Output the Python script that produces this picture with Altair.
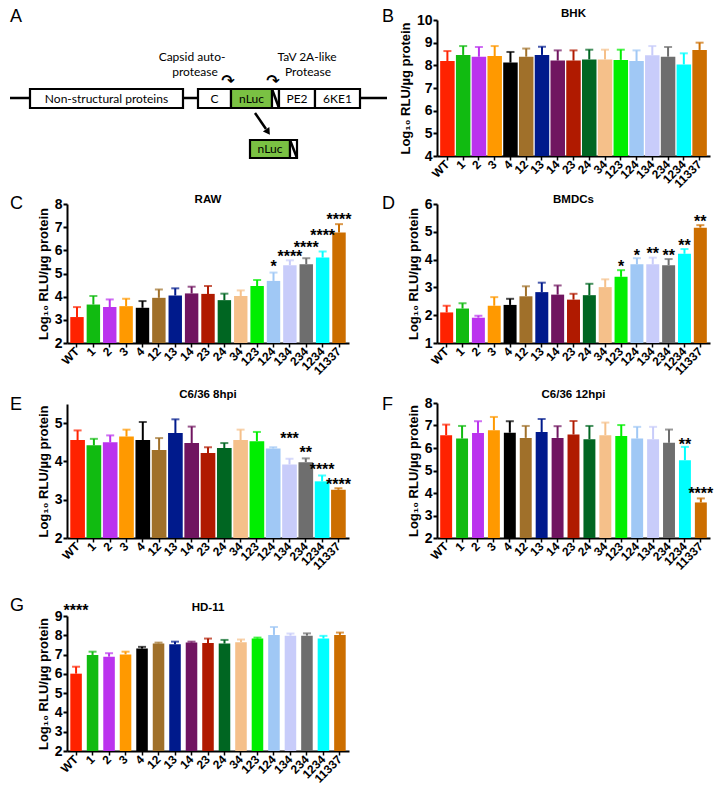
import altair as alt
import pandas as pd

cats = ["WT", "1", "2", "3", "4", "12", "13", "14", "23", "24", "34",
        "123", "124", "134", "234", "1234", "11337"]
colors = ["#ff2200", "#11bb11", "#bb33ee", "#ff9900", "#000000", "#a0702a",
          "#001a8c", "#701560", "#b01a00", "#006622", "#f5c08a", "#00ee00",
          "#a0c8f5", "#c8ccfa", "#6e6e6e", "#00ffff", "#cc6e00"]

bhk_mean = [8.19, 8.46, 8.38, 8.41, 8.12, 8.38, 8.46, 8.21, 8.21, 8.26, 8.26, 8.24, 8.19, 8.44, 8.38, 8.04, 8.68]
bhk_err = [8.63, 8.85, 8.81, 8.85, 8.59, 8.74, 8.82, 8.66, 8.66, 8.69, 8.69, 8.69, 8.66, 8.85, 8.81, 8.53, 9.00]

raw_mean = [3.12, 3.66, 3.55, 3.59, 3.52, 3.95, 4.05, 4.14, 4.12, 3.85, 4.03, 4.46, 4.68, 5.36, 5.40, 5.69, 6.77]
raw_err = [3.55, 4.03, 3.88, 3.91, 3.81, 4.31, 4.36, 4.43, 4.46, 4.13, 4.27, 4.72, 5.04, 5.57, 5.66, 5.95, 7.13]
raw_star_cat = ["124", "134", "234", "1234", "11337"]
raw_star_txt = ["*", "****", "****", "****", "****"]
raw_star_y = [5.44, 5.90, 6.29, 6.77, 7.49]

bmdc_mean = [2.10, 2.24, 1.91, 2.34, 2.37, 2.68, 2.83, 2.74, 2.56, 2.72, 3.01, 3.38, 3.83, 3.83, 3.80, 4.21, 5.15]
bmdc_err = [2.34, 2.43, 1.98, 2.65, 2.59, 3.04, 3.17, 3.07, 2.77, 3.13, 3.29, 3.62, 4.05, 4.07, 4.02, 4.38, 5.24]
bmdc_star_cat = ["123", "124", "134", "234", "1234", "11337"]
bmdc_star_txt = ["*", "*", "**", "**", "**", "**"]
bmdc_star_y = [3.89, 4.29, 4.33, 4.29, 4.63, 5.49]

c8_mean = [4.56, 4.42, 4.50, 4.65, 4.56, 4.30, 4.74, 4.48, 4.22, 4.35, 4.56, 4.53, 4.34, 3.92, 3.98, 3.48, 3.26]
c8_err = [4.81, 4.59, 4.68, 4.83, 5.03, 4.61, 5.10, 4.91, 4.37, 4.48, 4.83, 4.77, 4.37, 4.07, 4.08, 3.63, 3.30]
c8_star_cat = ["134", "234", "1234", "11337"]
c8_star_txt = ["***", "**", "****", "****"]
c8_star_y = [4.68, 4.33, 3.88, 3.48]

c12_mean = [6.57, 6.42, 6.67, 6.79, 6.68, 6.45, 6.71, 6.45, 6.60, 6.39, 6.57, 6.53, 6.42, 6.39, 6.23, 5.46, 3.58]
c12_err = [7.04, 6.98, 7.19, 7.38, 7.19, 6.98, 7.29, 6.97, 7.20, 6.98, 7.13, 7.02, 6.94, 6.94, 6.82, 6.05, 3.76]
c12_star_cat = ["1234", "11337"]
c12_star_txt = ["**", "****"]
c12_star_y = [6.33, 4.13]

hd_mean = [6.01, 6.98, 6.89, 7.01, 7.31, 7.58, 7.53, 7.62, 7.60, 7.57, 7.64, 7.83, 8.02, 7.98, 7.98, 7.83, 8.02]
hd_err = [6.37, 7.15, 7.07, 7.15, 7.40, 7.62, 7.67, 7.67, 7.83, 7.76, 7.78, 7.88, 8.43, 8.09, 8.10, 7.97, 8.14]
hd_star_cat = ["WT"]
hd_star_txt = ["****"]
hd_star_y = [9.47]

# ---- panel A diagram (figure-pixel units) ----
box_labels = ["Non-structural proteins", "C", "nLuc", "", "PE2", "6KE1", "nLuc", ""]
box_x0 = [28, 196, 229, 270, 277, 313, 248, 288]
box_x1 = [181, 229, 270, 277, 313, 358, 288, 295]
box_y0 = [88, 88, 88, 88, 88, 88, 139, 139]
box_y1 = [107, 107, 107, 107, 107, 107, 157, 157]
box_fill = ["white", "white", "#7ac143", "white", "white", "white", "#7ac143", "white"]
note_txt = ["Capsid auto-", "protease", "TaV 2A-like", "Protease"]
note_x = [190, 193, 305, 306]
note_y = [56, 71, 56, 71]

FONT = "Liberation Sans"
YTITLE = "Log\u2081\u2080 RLU/\u00b5g protein"

LW, RW = 282, 273


def letter_layer(letter, lx, ly):
    # ly is the top of the letter's text box, relative to the panel's top
    return alt.Chart(pd.DataFrame({"t": [letter]})).mark_text(
        font=FONT, fontSize=18, align="left", baseline="top", color="black").encode(
        x=alt.value(lx), y=alt.value(ly), text="t:N")


def diagram(w, h):
    xs = alt.Scale(domain=[65, 65 + w], nice=False, zero=False)
    ys = alt.Scale(domain=[19, 19 + h], nice=False, zero=False, reverse=True)
    bdf = pd.DataFrame({"lab": box_labels, "x0": box_x0, "x1": box_x1,
                        "y0": box_y0, "y1": box_y1, "fill": box_fill})
    bdf["xc"] = (bdf.x0 + bdf.x1) / 2
    bdf["yc"] = (bdf.y0 + bdf.y1) / 2
    hatch = bdf[bdf.lab == ""].copy()
    line = alt.Chart(pd.DataFrame({"a": [8], "b": [385], "y": [97]})).mark_rule(
        strokeWidth=2.5, color="black").encode(
        x=alt.X("a:Q", scale=xs, axis=None), x2="b:Q",
        y=alt.Y("y:Q", scale=ys, axis=None))
    rects = alt.Chart(bdf).mark_rect(stroke="black", strokeWidth=2.2).encode(
        x=alt.X("x0:Q", scale=xs, axis=None), x2="x1:Q",
        y=alt.Y("y0:Q", scale=ys, axis=None), y2="y1:Q",
        fill=alt.Fill("fill:N", scale=None))
    stripes = alt.Chart(hatch).mark_rule(strokeWidth=2.5, color="black").encode(
        x=alt.X("x0:Q", scale=xs, axis=None), x2="x1:Q",
        y=alt.Y("y0:Q", scale=ys, axis=None), y2="y1:Q")
    labels = alt.Chart(bdf).mark_text(font="Lato", fontSize=12, baseline="middle").encode(
        x=alt.X("xc:Q", scale=xs, axis=None), y=alt.Y("yc:Q", scale=ys, axis=None),
        text="lab:N")
    ndf = pd.DataFrame({"t": note_txt, "x": note_x, "y": note_y})
    notes = alt.Chart(ndf).mark_text(font="Lato", fontSize=12, baseline="middle").encode(
        x=alt.X("x:Q", scale=xs, axis=None), y=alt.Y("y:Q", scale=ys, axis=None), text="t:N")
    cdf = pd.DataFrame({"t": ["\u21b7", "\u21b7"], "x": [226, 271], "y": [80, 80]})
    curls = alt.Chart(cdf).mark_text(font="DejaVu Sans", fontSize=16, fontWeight="bold",
                                     baseline="middle").encode(
        x=alt.X("x:Q", scale=xs, axis=None), y=alt.Y("y:Q", scale=ys, axis=None), text="t:N")
    adf = pd.DataFrame({"x": [253], "x2": [264], "y": [112], "y2": [128]})
    arrow = alt.Chart(adf).mark_rule(strokeWidth=2.5, color="black").encode(
        x=alt.X("x:Q", scale=xs, axis=None), x2="x2:Q",
        y=alt.Y("y:Q", scale=ys, axis=None), y2="y2:Q")
    hdf = pd.DataFrame({"x": [266], "y": [131]})
    head = alt.Chart(hdf).mark_point(shape="triangle-down", filled=True, size=60,
                                     color="black", angle=326, opacity=1).encode(
        x=alt.X("x:Q", scale=xs, axis=None), y=alt.Y("y:Q", scale=ys, axis=None))
    return alt.layer(line, rects, stripes, labels, notes, curls, arrow, head,
                     letter_layer("A", -57, -12)).properties(width=w, height=h)


def bar_panel(letter, title, mean, err, lo, hi, scat, stxt, sy, w, h, e,
              pad_inner, letter_x, letter_y, title_y):
    df = pd.DataFrame({"cat": cats, "mean": mean, "err": err})
    xs = alt.Scale(domain=cats, paddingInner=pad_inner, paddingOuter=0.2)
    xaxis = alt.Axis(title=None, labelAngle=315, labelAlign="right", labelBaseline="middle",
                     labelFont=FONT, labelFontSize=12, labelOverlap=False,
                     labelFontWeight="bold", labelColor="black", labelPadding=2,
                     tickSize=4, tickWidth=1.5, tickColor="black",
                     domainWidth=2, domainColor="black", grid=False)
    ys = alt.Scale(domain=[lo, hi], range=[h, e], nice=False, zero=False)
    ticks = [v for v in range(int(lo), int(hi) + 1)]
    yaxis = alt.Axis(title=YTITLE, values=ticks, format="d", labelFont=FONT, labelFontSize=14,
                     labelFontWeight="bold", labelColor="black", labelPadding=1,
                     labelOverlap=False, labelFlush=False,
                     tickSize=4, tickWidth=2, tickColor="black", domainWidth=2,
                     domainColor="black", grid=False, titleFont=FONT, titleFontSize=13,
                     titleFontWeight="bold", titleColor="black", titlePadding=4)
    col = alt.Color("cat:N", scale=alt.Scale(domain=cats, range=colors), legend=None)
    x = alt.X("cat:N", sort=cats, scale=xs, axis=xaxis)
    base = alt.Chart(df)
    bars = base.mark_bar().encode(x=x, y=alt.Y("mean:Q", scale=ys, axis=yaxis),
                                  y2=alt.datum(lo), color=col)
    rule = base.mark_rule(strokeWidth=2).encode(
        x=x, y=alt.Y("mean:Q", scale=ys, axis=yaxis), y2="err:Q", color=col)
    cap = base.mark_tick(thickness=2, size=8).encode(
        x=x, y=alt.Y("err:Q", scale=ys, axis=yaxis), color=col)
    sdf = pd.DataFrame({"cat": scat, "t": stxt, "sy": sy})
    stars = alt.Chart(sdf).mark_text(font=FONT, fontSize=16, fontWeight="bold",
                                     baseline="middle", dy=4, color="black").encode(
        x=x, y=alt.Y("sy:Q", scale=ys, axis=yaxis), text="t:N")
    ttl = alt.Chart(pd.DataFrame({"t": [title]})).mark_text(
        font=FONT, fontSize=11.5, fontWeight="bold", baseline="middle", color="black").encode(
        x=alt.value(w / 2), y=alt.value(title_y), text="t:N")
    return alt.layer(bars, rule, cap, stars, ttl,
                     letter_layer(letter, letter_x, letter_y)).properties(width=w, height=h)


pA = diagram(LW, 136)
pB = bar_panel("B", "BHK", bhk_mean, bhk_err, 4, 10, [], [], [], RW, 136, 0, 0.08, -55, -12, -6)
pC = bar_panel("C", "RAW", raw_mean, raw_err, 2, 8, raw_star_cat, raw_star_txt, raw_star_y,
               LW, 139, 0, 0.18, -57, -9, -4)
pD = bar_panel("D", "BMDCs", bmdc_mean, bmdc_err, 1, 6, bmdc_star_cat, bmdc_star_txt, bmdc_star_y,
               RW, 139, 0, 0.18, -55, -9, -4)
pE = bar_panel("E", "C6/36 8hpi", c8_mean, c8_err, 2, 5.5, c8_star_cat, c8_star_txt, c8_star_y,
               LW, 147, 13, 0.1, -57, 5, 4)
pF = bar_panel("F", "C6/36 12hpi", c12_mean, c12_err, 2, 8, c12_star_cat, c12_star_txt, c12_star_y,
               RW, 147, 12, 0.25, -55, 5, 4)
pG = bar_panel("G", "HD-11", hd_mean, hd_err, 2, 9, hd_star_cat, hd_star_txt, hd_star_y,
               LW, 165, 30, 0.3, -57, 11, 22)

chart = alt.concat(pA, pB, pC, pD, pE, pF, pG, columns=2,
                   spacing={"row": 48, "column": 88}, bounds="flush", align="each").properties(
    padding=0, background="white").configure_view(stroke=None)

chart.save("out.html", embed_options={"renderer": "svg", "actions": False})
